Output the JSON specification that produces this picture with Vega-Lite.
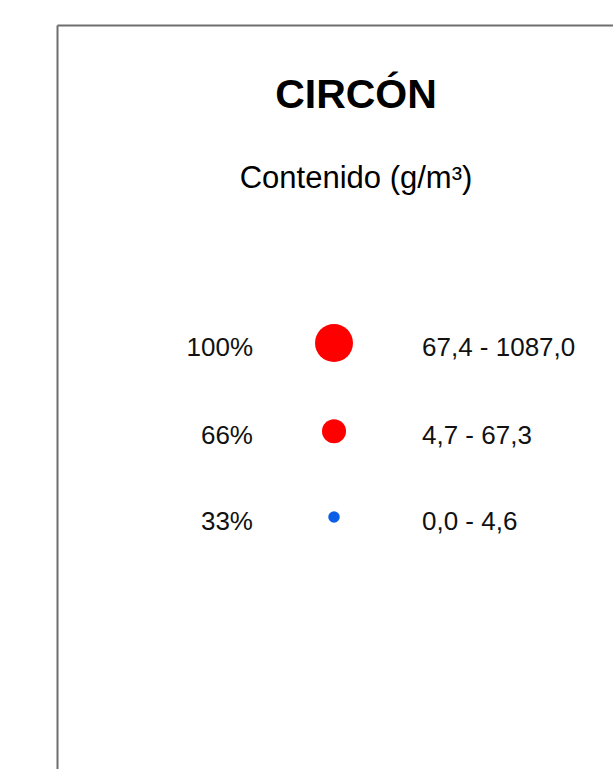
{
  "$schema": "https://vega.github.io/schema/vega-lite/v6.json",
  "width": 556,
  "height": 744,
  "autosize": {"type": "none"},
  "padding": {"left": 57, "top": 25, "right": 0, "bottom": 0},
  "background": "white",
  "config": {"view": {"stroke": null}, "font": "Liberation Sans"},
  "title": {
    "text": "CIRCÓN",
    "subtitle": "Contenido (g/m³)",
    "anchor": "middle",
    "frame": "bounds",
    "orient": "top",
    "offset": -170,
    "dx": 21,
    "font": "Liberation Sans",
    "fontSize": 41,
    "fontWeight": "bold",
    "color": "black",
    "subtitleFont": "Liberation Sans",
    "subtitleFontSize": 31,
    "subtitleColor": "black",
    "subtitlePadding": 47
  },
  "data": {
    "values": [
      {"pct": 100, "etiqueta": "100%", "rango": "67,4 - 1087,0"},
      {"pct": 66, "etiqueta": "66%", "rango": "4,7 - 67,3"},
      {"pct": 33, "etiqueta": "33%", "rango": "0,0 - 4,6"}
    ]
  },
  "encoding": {
    "y": {
      "field": "pct",
      "type": "quantitative",
      "scale": {"domain": [-64.03, 222.45], "nice": false, "zero": false},
      "axis": {"orient": "left", "domain": true, "domainColor": "#6e6e6e", "domainWidth": 2, "labels": false, "ticks": false, "grid": false, "title": null}
    }
  },
  "layer": [
    {
      "mark": {"type": "text", "align": "right", "baseline": "alphabetic", "dy": 13, "fontSize": 26, "color": "#111111", "font": "Liberation Sans"},
      "encoding": {
        "x": {
          "datum": 196,
          "type": "quantitative",
          "scale": {"domain": [0, 556], "nice": false, "zero": false},
          "axis": {"orient": "top", "domain": true, "domainColor": "#6e6e6e", "domainWidth": 2, "labels": false, "ticks": false, "grid": false, "title": null}
        },
        "text": {"field": "etiqueta"}
      }
    },
    {
      "mark": {"type": "point", "shape": "circle", "filled": true, "opacity": 1, "strokeWidth": 0},
      "encoding": {
        "x": {"datum": 277, "type": "quantitative"},
        "size": {"field": "pct", "type": "ordinal", "scale": {"type": "ordinal", "domain": [33, 66, 100], "range": [132, 576, 1444]}, "legend": null},
        "color": {"field": "pct", "type": "ordinal", "scale": {"domain": [33, 66, 100], "range": ["#0b5fe6", "#ff0000", "#ff0000"]}, "legend": null}
      }
    },
    {
      "mark": {"type": "text", "align": "left", "baseline": "alphabetic", "dy": 13, "fontSize": 26, "color": "#111111", "font": "Liberation Sans"},
      "encoding": {
        "x": {"datum": 365, "type": "quantitative"},
        "text": {"field": "rango"}
      }
    }
  ]
}
